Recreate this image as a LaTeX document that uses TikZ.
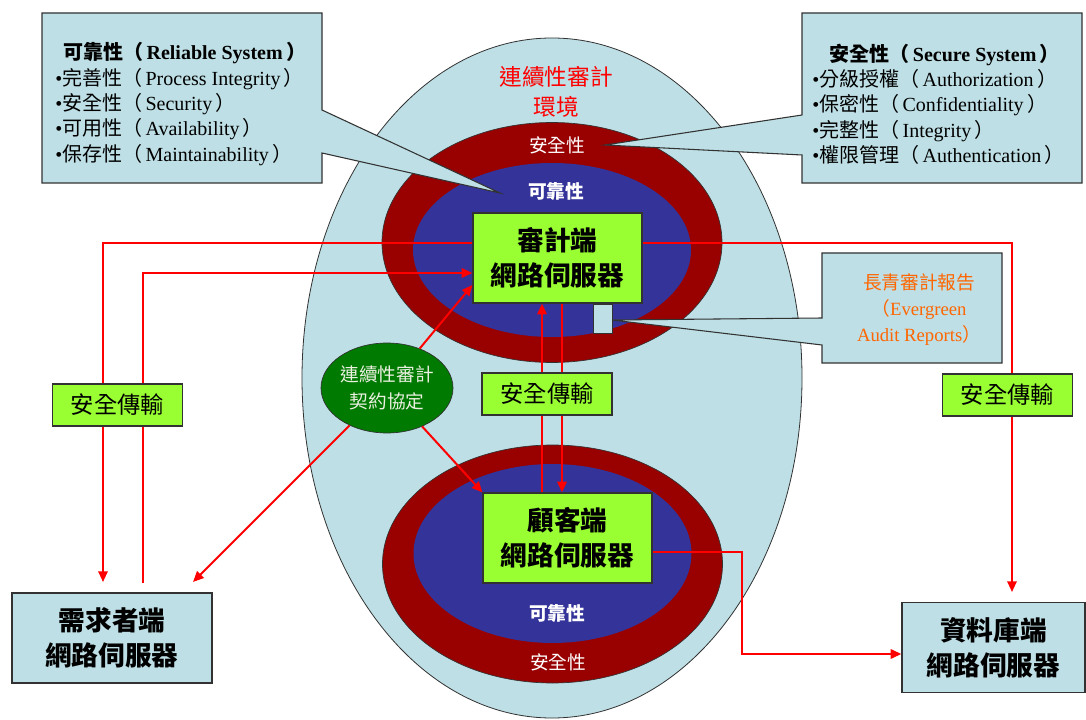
\documentclass[tikz,border=0pt]{standalone}
\usepackage{fontspec}
\setmainfont{Liberation Serif}
\newfontfamily\cjk{Noto Sans CJK TC}
\usetikzlibrary{arrows.meta,shapes.geometric}
\definecolor{lblue}{RGB}{190,223,229}
\definecolor{dred}{RGB}{153,0,0}
\definecolor{navy}{RGB}{51,51,153}
\definecolor{lime}{RGB}{153,255,51}
\definecolor{dgreen}{RGB}{0,122,0}
\definecolor{ared}{RGB}{255,0,0}
\definecolor{orng}{RGB}{255,102,0}
\definecolor{edge}{RGB}{50,50,50}
\newcommand{\lp}{{\cjk （}\,}
\newcommand{\rp}{\,{\cjk ）}}
\tikzset{
  server/.style={draw=edge,line width=0.9pt,fill=lime,minimum width=126.75pt,minimum height=67.5pt,inner sep=0pt,align=center,font=\cjk\bfseries\fontsize{20}{26}\selectfont},
  endbox/.style={draw=edge,line width=0.9pt,fill=lblue,minimum height=67.5pt,inner sep=0pt,align=center,font=\cjk\bfseries\fontsize{20}{26}\selectfont},
  secbox/.style={draw=edge,line width=0.9pt,fill=lime,minimum width=97.5pt,minimum height=31.5pt,inner sep=0pt,font=\cjk\fontsize{17.5}{19}\selectfont},
  callout/.style={draw=edge,line width=0.8pt,fill=lblue},
  arr/.style={draw=ared,line width=1.5pt,-{Triangle[length=8pt,width=7pt]}},
  ringtxt/.style={text=white,font=\cjk\fontsize{14}{16}\selectfont},
  calltxt/.style={anchor=west,inner sep=0pt,align=left,font=\fontsize{15}{19}\selectfont},
}
\begin{document}
\begin{tikzpicture}[x=0.75pt,y=-0.75pt]
\useasboundingbox (0,0) rectangle (1086,720);
\fill[white] (0,0) rectangle (1086,720);
% environment
\draw[draw=edge,line width=0.6pt,fill=lblue] (552,378) ellipse [x radius=187.5pt,y radius=255pt];
\node[text=ared,align=center,font=\cjk\fontsize{17}{22}\selectfont] (env) at (556,92) {連續性審計\\環境};
% top rings
\draw[draw=edge,line width=0.5pt,fill=dred] (552,242.5) ellipse [x radius=127.5pt,y radius=90pt];
\fill[navy] (552,250) ellipse [x radius=104.25pt,y radius=65.25pt];
% bottom rings
\draw[draw=edge,line width=0.5pt,fill=dred] (552.5,564) ellipse [x radius=127.5pt,y radius=89.25pt];
\fill[navy] (552.5,553.5) ellipse [x radius=104.25pt,y radius=67.1pt];
\node[ringtxt] (secT) at (557,145) {安全性};
\node[ringtxt,font=\cjk\bfseries\fontsize{14}{16}\selectfont] (relT) at (556,192) {可靠性};
\node[ringtxt,font=\cjk\bfseries\fontsize{14}{16}\selectfont] (relB) at (557,614) {可靠性};
\node[ringtxt] (secB) at (558,662) {安全性};
% left callout
\draw[callout] (42,13) -- (322,13) -- (322,110) -- (500,193) -- (322,153) -- (322,183) -- (42,183) -- cycle;
\node[calltxt] (relList) at (55,104) {\hspace{6pt}\textbf{{\cjk\bfseries 可靠性（}\,Reliable System\,{\cjk\bfseries ）}}\\
•{\cjk 完善性}\lp Process Integrity\rp\\
•{\cjk 安全性}\lp Security\rp\\
•{\cjk 可用性}\lp Availability\rp\\
•{\cjk 保存性}\lp Maintainability\rp};
% right callout
\draw[callout] (802,13) -- (1082,13) -- (1082,183) -- (802,183) -- (802,155) -- (605,145) -- (802,115) -- cycle;
\node[calltxt] (secList) at (812,104) {\hspace{13pt}\textbf{{\cjk\bfseries 安全性（}\,Secure System\,{\cjk\bfseries ）}}\\
•{\cjk 分級授權}\lp Authorization\rp\\
•{\cjk 保密性}\lp Confidentiality\rp\\
•{\cjk 完整性}\lp Integrity\rp\\
•{\cjk 權限管理}\lp Authentication\rp};
% evergreen callout
\draw[callout] (822,253) -- (1002,253) -- (1002,363) -- (822,363) -- (822,345) -- (612,320) -- (822,318) -- cycle;
\node[text=orng,align=center,inner sep=0pt,font=\fontsize{14}{19.5}\selectfont] (ever) at (919,310) {{\cjk 長青審計報告}\\{\cjk （}Evergreen\\Audit Reports{\cjk ）}};
\node[draw=edge,line width=0.5pt,fill=lblue,minimum width=14.25pt,minimum height=21.75pt,inner sep=0pt] (rep) at (602.5,318.5) {};
% servers
\node[server] (audit) at (557.5,258) {審計端\\網路伺服器};
\node[server] (client) at (567.5,538) {顧客端\\網路伺服器};
\node[endbox,minimum width=150pt] (req) at (112,638) {需求者端\\網路伺服器};
\node[endbox,minimum width=137.25pt] (db) at (993.5,647.5) {資料庫端\\網路伺服器};
% contract ellipse
\node[ellipse,draw=edge,line width=0.5pt,fill=dgreen,minimum width=97.5pt,minimum height=67.5pt,inner sep=0pt,align=center,text={rgb,255:red,235;green,240;blue,225},font=\cjk\fontsize{14}{20}\selectfont] (contract) at (387,388) {連續性審計\\契約協定};
% connectors
\coordinate (reqA) at (103,582);
\coordinate (reqB) at (143,583);
\coordinate (reqC) at (193,582);
\coordinate (dbA) at (1012,592);
\coordinate (bendC) at (742,552);
\draw[arr] (audit.west |- 0,243) -| (reqA);
\draw[arr] (reqB) |- (audit.west |- 0,273);
\draw[arr] (contract) -- (audit.west |- 0,285);
\draw[arr] (contract) -- (reqC);
\draw[arr] (contract) -- (client.north west);
\draw[arr] (client.north -| 542,0) -- (audit.south -| 542,0);
\draw[arr] (audit.south -| 562,0) -- (client.north -| 562,0);
\draw[arr] (audit.east |- 0,243) -| (dbA);
\draw[arr] (client.east |- 0,552) -- (bendC) |- (db.west |- 0,654);
% secure transfer labels
\node[secbox] (secL) at (117.5,405) {安全傳輸};
\node[secbox] (secM) at (547,394) {安全傳輸};
\node[secbox] (secR) at (1007.5,395) {安全傳輸};
\end{tikzpicture}
\end{document}
